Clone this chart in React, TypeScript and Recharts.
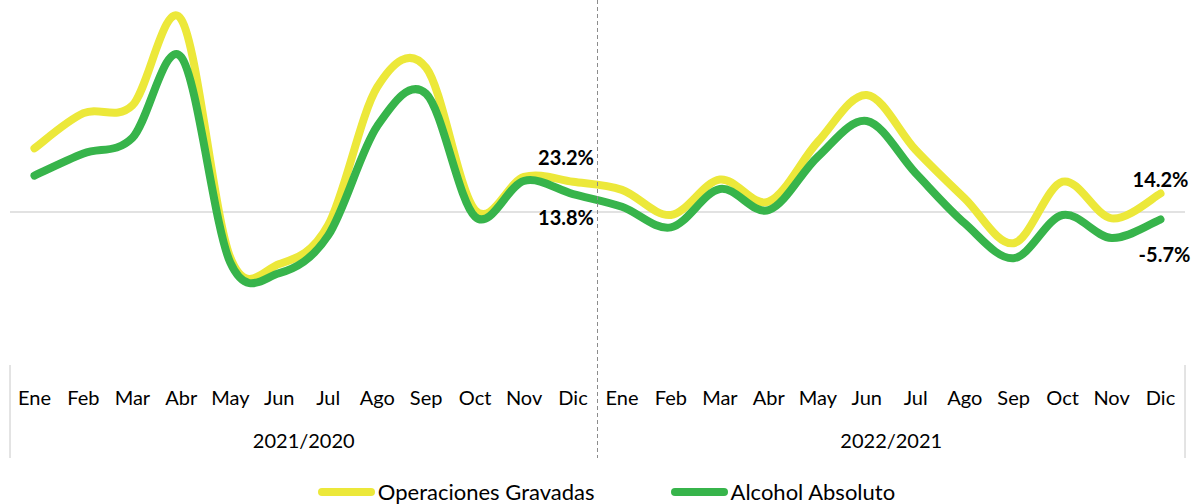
import React from 'react';
import { LineChart, Line, XAxis, YAxis, ReferenceLine, LabelList, Legend } from 'recharts';

const MONTHS = ['Ene', 'Feb', 'Mar', 'Abr', 'May', 'Jun', 'Jul', 'Ago', 'Sep', 'Oct', 'Nov', 'Dic'];
const PERIODS = ['2021/2020', '2022/2021'];
const SERIES_ORDER = ['Operaciones Gravadas', 'Alcohol Absoluto'];

// variación % por mes
const OPERACIONES_2021 = [49, 76, 82, 148, -35, -40, -10, 96, 111, 1.5, 27, 23.2];
const OPERACIONES_2022 = [17, -2.3, 25, 8, 54, 90, 47.7, 10.5, -24, 23.3, -4.9, 14.2];
const ALCOHOL_2021 = [28, 45, 57, 119, -39, -47, -18, 66, 91, -3.6, 24, 13.8];
const ALCOHOL_2022 = [4, -11.8, 17.7, 1.5, 42.5, 70, 29.8, -8.7, -35.6, -2.3, -20, -5.7];

const YELLOW = '#ECE83A';
const GREEN = '#37B44B';
const FONT = 'Lato, "Open Sans", sans-serif';

const W = 1196;
const H = 504;
const MARGIN = { top: 4, right: 11, left: 10, bottom: 42 };
const STEP = (W - MARGIN.left - MARGIN.right) / 24;

const data = PERIODS.flatMap((period, p) =>
  MONTHS.map((mes, i) => ({
    mes,
    period,
    operaciones: (p === 0 ? OPERACIONES_2021 : OPERACIONES_2022)[i],
    alcohol: (p === 0 ? ALCOHOL_2021 : ALCOHOL_2022)[i],
  }))
);

// Excel-like smoothed line (Catmull-Rom through every point)
const excelSmooth = (context: any) => {
  let pts: number[][] = [];
  let line = NaN;
  return {
    areaStart() { line = 0; },
    areaEnd() { line = NaN; },
    lineStart() { pts = []; },
    lineEnd() {
      const n = pts.length;
      if (n) {
        if (line) context.lineTo(pts[0][0], pts[0][1]);
        else context.moveTo(pts[0][0], pts[0][1]);
        for (let i = 0; i < n - 1; i++) {
          const p0 = pts[Math.max(i - 1, 0)];
          const p1 = pts[i];
          const p2 = pts[i + 1];
          const p3 = pts[Math.min(i + 2, n - 1)];
          context.bezierCurveTo(
            p1[0] + (p2[0] - p0[0]) / 6, p1[1] + (p2[1] - p0[1]) / 6,
            p2[0] - (p3[0] - p1[0]) / 6, p2[1] - (p3[1] - p1[1]) / 6,
            p2[0], p2[1]
          );
        }
      }
      if (line || (line !== 0 && n === 1)) context.closePath();
      line = 1 - line;
    },
    point(x: number, y: number) { pts.push([+x, +y]); },
  };
};

const MonthTick = (props: any) => {
  const { x, y, payload, index } = props;
  return (
    <g>
      <text x={x} y={y + 63} textAnchor="middle" fontFamily={FONT} fontSize={20} fill="#000">
        {payload.value}
      </text>
      {index % 12 === 5 && (
        <text x={x + STEP / 2} y={y + 106} textAnchor="middle" fontFamily={FONT} fontSize={20} fill="#000">
          {data[index].period}
        </text>
      )}
      {index === 0 && <line x1={x - STEP / 2} x2={x - STEP / 2} y1={y + 23} y2={y + 116} stroke="#c8c8c8" />}
      {index === 11 && (
        <line x1={x + STEP / 2} x2={x + STEP / 2} y1={y - 342} y2={y + 116} stroke="#8c8c8c" strokeDasharray="4 3" />
      )}
      {index === 23 && <line x1={x + STEP / 2} x2={x + STEP / 2} y1={y + 23} y2={y + 116} stroke="#c8c8c8" />}
    </g>
  );
};

const LABEL_POS: Record<string, Record<number, { dx: number; dy: number }>> = {
  operaciones: { 11: { dx: -7, dy: -25 }, 23: { dx: 0, dy: -15 } },
  alcohol: { 11: { dx: -7, dy: 23 }, 23: { dx: 4, dy: 35 } },
};

const endLabel = (key: string) => (props: any) => {
  const { x, y, value, index } = props;
  const pos = LABEL_POS[key][index];
  if (!pos) return null;
  return (
    <text
      x={x + pos.dx}
      y={y + pos.dy}
      textAnchor="middle"
      dominantBaseline="central"
      fontFamily={FONT}
      fontSize={20}
      fontWeight={700}
      fill="#000"
    >
      {`${Number(value).toFixed(1)}%`}
    </text>
  );
};

const renderLegend = (props: any) => {
  const items = [...(props.payload || [])].sort(
    (a: any, b: any) => SERIES_ORDER.indexOf(a.value) - SERIES_ORDER.indexOf(b.value)
  );
  return (
    <div style={{ display: 'flex', justifyContent: 'center', gap: 76, paddingLeft: 17, fontFamily: FONT, fontSize: 22, color: '#000' }}>
      {items.map((entry: any) => (
        <div key={entry.value} style={{ display: 'flex', alignItems: 'center' }}>
          <span style={{ display: 'inline-block', width: 57, height: 8, borderRadius: 4, background: entry.color, marginRight: 3 }} />
          <span>{entry.value}</span>
        </div>
      ))}
    </div>
  );
};

export default function App() {
  return (
    <div style={{ position: 'absolute', left: 0, top: 0, width: W, height: H, background: '#fff' }}>
      <LineChart width={W} height={H} data={data} margin={MARGIN}>
        <XAxis
          dataKey="mes"
          allowDuplicatedCategory
          padding={{ left: STEP / 2, right: STEP / 2 }}
          axisLine={false}
          tickLine={false}
          tickSize={0}
          tickMargin={0}
          interval={0}
          height={120}
          tick={<MonthTick />}
        />
        <YAxis hide domain={[-100, 160]} tickCount={14} allowDataOverflow />
        <ReferenceLine y={0} stroke="#d9d9d9" strokeWidth={1.5} />
        <Legend verticalAlign="middle" align="center" wrapperStyle={{ top: 478, left: 0, width: W }} content={renderLegend} />
        <Line
          name="Operaciones Gravadas"
          dataKey="operaciones"
          type={excelSmooth as any}
          stroke={YELLOW}
          strokeWidth={8}
          strokeLinecap="round"
          dot={false}
          activeDot={false}
          isAnimationActive={false}
        >
          <LabelList dataKey="operaciones" content={endLabel('operaciones')} />
        </Line>
        <Line
          name="Alcohol Absoluto"
          dataKey="alcohol"
          type={excelSmooth as any}
          stroke={GREEN}
          strokeWidth={8}
          strokeLinecap="round"
          dot={false}
          activeDot={false}
          isAnimationActive={false}
        >
          <LabelList dataKey="alcohol" content={endLabel('alcohol')} />
        </Line>
      </LineChart>
    </div>
  );
}
